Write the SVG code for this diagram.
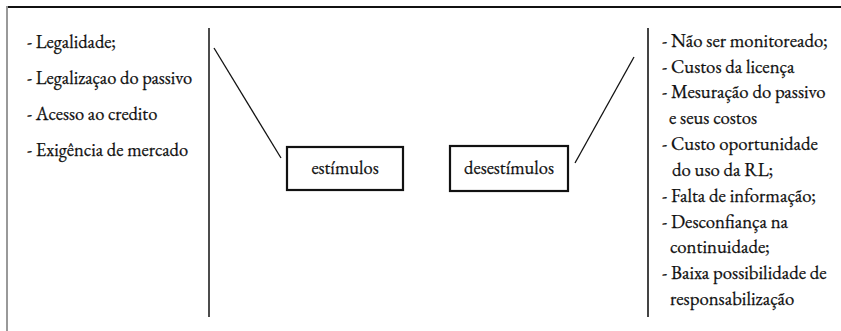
<svg xmlns="http://www.w3.org/2000/svg" width="841" height="331" viewBox="0 0 841 331">
<style>
.box{fill:#fff;stroke:#111;stroke-width:2.2}
.ln{stroke:#111;fill:none}
</style>
<rect width="841" height="331" fill="#fff"/>
<g id="frame">
<line x1="7" y1="7" x2="841" y2="7" stroke="#111" stroke-width="2"/>
<line x1="7" y1="6" x2="7" y2="331" stroke="#999" stroke-width="2"/>
<line x1="209" y1="28" x2="209" y2="317" stroke="#111" stroke-width="1.5"/>
<line x1="648" y1="28" x2="648" y2="317" stroke="#444" stroke-width="2"/>
</g>
<g font-family="EB Garamond, Liberation Serif, serif" font-size="18.5" fill="#111" stroke="#111" stroke-width="0.25">
<g id="left-list">
<text x="27" y="48">- Legalidade;</text>
<text x="27" y="84">- Legalizaçao do passivo</text>
<text x="27" y="120">- Acesso ao credito</text>
<text x="27" y="156">- Exigência de mercado</text>
</g>
<g id="right-list" font-size="18.8">
<text x="662" y="47">- Não ser monitoreado;</text>
<text x="662" y="73">- Custos da licença</text>
<text x="662" y="98">- Mesuração do passivo</text>
<text x="669" y="124">e seus costos</text>
<text x="662" y="150">- Custo oportunidade</text>
<text x="672" y="176">do uso da RL;</text>
<text x="662" y="202">- Falta de informação;</text>
<text x="662" y="228">- Desconfiança na</text>
<text x="670" y="253">continuidade;</text>
<text x="662" y="279">- Baixa possibilidade de</text>
<text x="670" y="305">responsabilização</text>
</g>
</g>
<g id="connectors">
<line class="ln" x1="214" y1="48" x2="281" y2="158" stroke-width="1.3"/>
<line class="ln" x1="634" y1="57" x2="575" y2="163" stroke-width="1.3"/>
</g>
<g id="estimulos">
<rect class="box" x="287" y="147" width="116" height="43"/>
<text x="345" y="174" text-anchor="middle" font-family="EB Garamond, Liberation Serif, serif" font-size="18.5" fill="#111" stroke="#111" stroke-width="0.25">estímulos</text>
</g>
<g id="desestimulos">
<rect class="box" x="450" y="146" width="118" height="45"/>
<text x="509" y="174" text-anchor="middle" font-family="EB Garamond, Liberation Serif, serif" font-size="18.5" fill="#111" stroke="#111" stroke-width="0.25">desestímulos</text>
</g>
</svg>
